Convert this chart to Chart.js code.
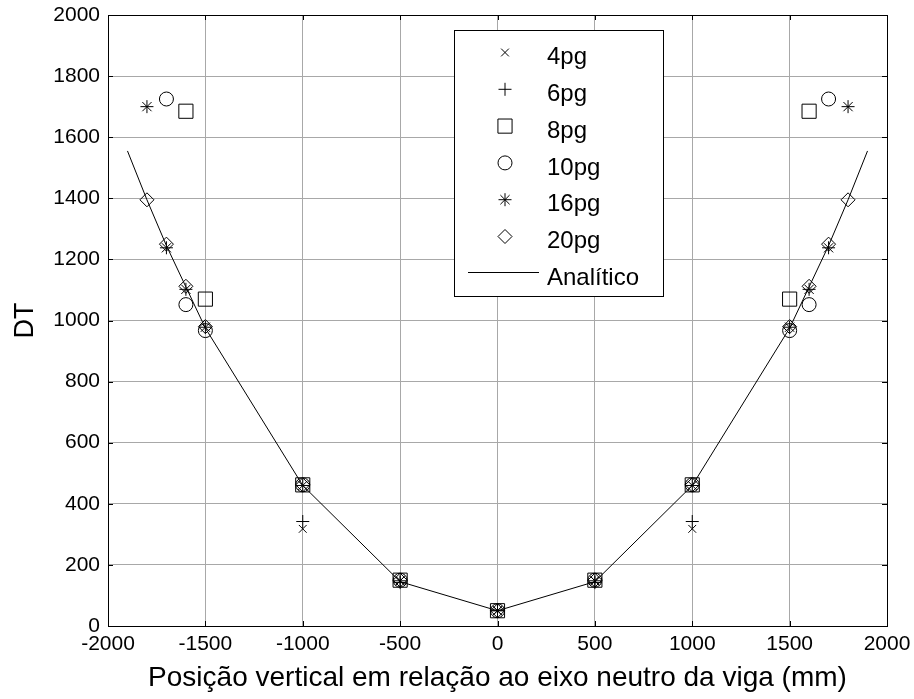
<!DOCTYPE html>
<html>
<head>
<meta charset="utf-8">
<script src="https://cdn.jsdelivr.net/npm/chart.js@4.4.1/dist/chart.umd.min.js"></script>
<style>
  html, body { margin: 0; padding: 0; background: #ffffff; }
  #wrap { width: 914px; height: 699px; position: relative; }
</style>
</head>
<body>
<div id="wrap"><canvas id="c" width="914" height="699"></canvas></div>
<script>
// ---- data ----
const xTicks = [-2000, -1500, -1000, -500, 0, 500, 1000, 1500, 2000];
const yTicks = [0, 200, 400, 600, 800, 1000, 1200, 1400, 1600, 1800, 2000];

const pos4pg = [-1000, -500, 0, 500, 1000];
const dt4pg  = [318, 148, 50, 148, 318];

const pos6pg = [-1000, -500, 0, 500, 1000];
const dt6pg  = [342, 142, 50, 142, 342];

const pos8pg = [-1600, -1500, -1000, -500, 0, 500, 1000, 1500, 1600];
const dt8pg  = [1685, 1070, 462, 150, 50, 150, 462, 1070, 1685];

const pos10pg = [-1700, -1600, -1500, -1000, -500, 0, 500, 1000, 1500, 1600, 1700];
const dt10pg  = [1725, 1052, 967, 462, 150, 50, 150, 462, 967, 1052, 1725];

const pos16pg = [-1800, -1700, -1600, -1500, -1000, -500, 0, 500, 1000, 1500, 1600, 1700, 1800];
const dt16pg  = [1700, 1238, 1102, 978, 460, 148, 50, 148, 460, 978, 1102, 1238, 1700];

const pos20pg = [-1800, -1700, -1600, -1500, -1000, -500, 0, 500, 1000, 1500, 1600, 1700, 1800];
const dt20pg  = [1395, 1250, 1112, 980, 462, 150, 50, 150, 462, 980, 1112, 1250, 1395];

const posAnalitico = [-1900, -1800, -1700, -1600, -1500, -1000, -500, 0, 500, 1000, 1500, 1600, 1700, 1800, 1900];
const dtAnalitico  = [1555, 1395, 1245, 1110, 975, 460, 145, 50, 145, 460, 975, 1110, 1245, 1395, 1555];

const seriesLabels = ['4pg', '6pg', '8pg', '10pg', '16pg', '20pg', 'Analítico'];

const xTitle = 'Posição vertical em relação ao eixo neutro da viga (mm)';
const yTitle = 'DT';

// ---- helpers ----
function pts(xs, ys) { return xs.map((x, i) => ({ x: x, y: ys[i] })); }
const FONT = "'Liberation Sans', Arial, Helvetica, sans-serif";

function markerDataset(label, xs, ys, style, radius) {
  return {
    label: label,
    data: pts(xs, ys),
    showLine: false,
    pointStyle: style,
    pointRadius: radius,
    pointHoverRadius: radius,
    pointBorderColor: '#000000',
    pointBackgroundColor: 'rgba(0,0,0,0)',
    pointBorderWidth: 1,
    borderColor: '#000000',
    backgroundColor: 'rgba(0,0,0,0)'
  };
}

const datasets = [
  markerDataset(seriesLabels[0], pos4pg, dt4pg, 'crossRot', 5.5),
  markerDataset(seriesLabels[1], pos6pg, dt6pg, 'cross', 6.5),
  markerDataset(seriesLabels[2], pos8pg, dt8pg, 'rect', 10),
  markerDataset(seriesLabels[3], pos10pg, dt10pg, 'circle', 7),
  markerDataset(seriesLabels[4], pos16pg, dt16pg, 'star', 6.5),
  markerDataset(seriesLabels[5], pos20pg, dt20pg, 'rectRot', 7),
  {
    label: seriesLabels[6],
    data: pts(posAnalitico, dtAnalitico),
    showLine: true,
    borderColor: '#000000',
    borderWidth: 1,
    pointRadius: 0,
    pointHoverRadius: 0,
    fill: false,
    tension: 0,
    order: 10
  }
];

// frame + inward tick marks
const framePlugin = {
  id: 'frame',
  beforeDatasetsDraw(chart) {
    const { ctx, chartArea: a, scales } = chart;
    ctx.save();
    ctx.strokeStyle = '#000000';
    ctx.lineWidth = 1;
    ctx.beginPath();
    xTicks.forEach(v => {
      const px = Math.round(scales.x.getPixelForValue(v)) + 0.5;
      ctx.moveTo(px, a.bottom); ctx.lineTo(px, a.bottom - 5);
      ctx.moveTo(px, a.top); ctx.lineTo(px, a.top + 5);
    });
    yTicks.forEach(v => {
      const py = Math.round(scales.y.getPixelForValue(v)) + 0.5;
      ctx.moveTo(a.left, py); ctx.lineTo(a.left + 5, py);
      ctx.moveTo(a.right, py); ctx.lineTo(a.right - 5, py);
    });
    ctx.stroke();
    ctx.strokeRect(Math.round(a.left) + 0.5, Math.round(a.top) + 0.5,
                   Math.round(a.right - a.left), Math.round(a.bottom - a.top));
    ctx.restore();
  }
};

// boxed legend drawn inside the plot, like the reference
const legendPlugin = {
  id: 'boxLegend',
  afterDatasetsDraw(chart) {
    const ctx = chart.ctx;
    const box = { x: 454, y: 30, w: 209, h: 266 };
    ctx.save();
    ctx.fillStyle = '#ffffff';
    ctx.fillRect(box.x, box.y, box.w, box.h);
    ctx.strokeStyle = '#000000';
    ctx.lineWidth = 1;
    ctx.strokeRect(box.x + 0.5, box.y + 0.5, box.w, box.h);
    ctx.font = '24px ' + FONT;
    ctx.textAlign = 'left';
    ctx.textBaseline = 'alphabetic';
    const rowStart = 55.5, rowGap = 36.8;
    chart.data.datasets.forEach((ds, i) => {
      const cy = rowStart + i * rowGap;
      ctx.fillStyle = '#000000';
      ctx.fillText(ds.label, 547, cy + 8.6);
      ctx.strokeStyle = '#000000';
      ctx.lineWidth = 1;
      if (ds.showLine) {
        ctx.beginPath();
        ctx.moveTo(468, Math.round(cy - 4) + 0.5);
        ctx.lineTo(539, Math.round(cy - 4) + 0.5);
        ctx.stroke();
      } else {
        ctx.fillStyle = 'rgba(0,0,0,0)';
        Chart.helpers.drawPoint(ctx, {
          pointStyle: ds.pointStyle,
          radius: ds.pointRadius,
          rotation: 0,
          borderWidth: 1
        }, 505, cy - 3);
      }
    });
    ctx.restore();
  }
};

const plainNumber = v => String(v);

new Chart(document.getElementById('c'), {
  type: 'scatter',
  data: { datasets: datasets },
  options: {
    responsive: false,
    animation: false,
    events: [],
    layout: { padding: { top: 15, right: 27, left: 0, bottom: 0 } },
    plugins: {
      legend: { display: false },
      tooltip: { enabled: false }
    },
    scales: {
      x: {
        type: 'linear',
        min: -2000, max: 2000,
        afterBuildTicks(s) { s.ticks = xTicks.map(v => ({ value: v })); },
        afterFit(s) { s.height = 73; s.paddingLeft = 0; s.paddingRight = 0; },
        ticks: { color: '#000000', font: { family: FONT, size: 21 }, padding: 6, maxRotation: 0, autoSkip: false, callback: plainNumber },
        grid: { color: '#a8a8a8', lineWidth: 1, drawTicks: false },
        border: { display: true, color: '#000000', width: 1 },
        title: { display: true, text: xTitle, color: '#000000', font: { family: FONT, size: 28 }, padding: { top: 0, bottom: 4 } }
      },
      y: {
        type: 'linear',
        min: 0, max: 2000,
        afterBuildTicks(s) { s.ticks = yTicks.map(v => ({ value: v })); },
        afterFit(s) { s.width = 108; s.paddingTop = 0; s.paddingBottom = 0; },
        ticks: { color: '#000000', font: { family: FONT, size: 21 }, padding: 8, autoSkip: false, callback: plainNumber },
        grid: { color: '#a8a8a8', lineWidth: 1, drawTicks: false },
        border: { display: true, color: '#000000', width: 1 },
        title: { display: true, text: yTitle, color: '#000000', font: { family: FONT, size: 27 }, padding: { top: 9, bottom: 0 } }
      }
    }
  },
  plugins: [framePlugin, legendPlugin]
});
</script>
</body>
</html>
